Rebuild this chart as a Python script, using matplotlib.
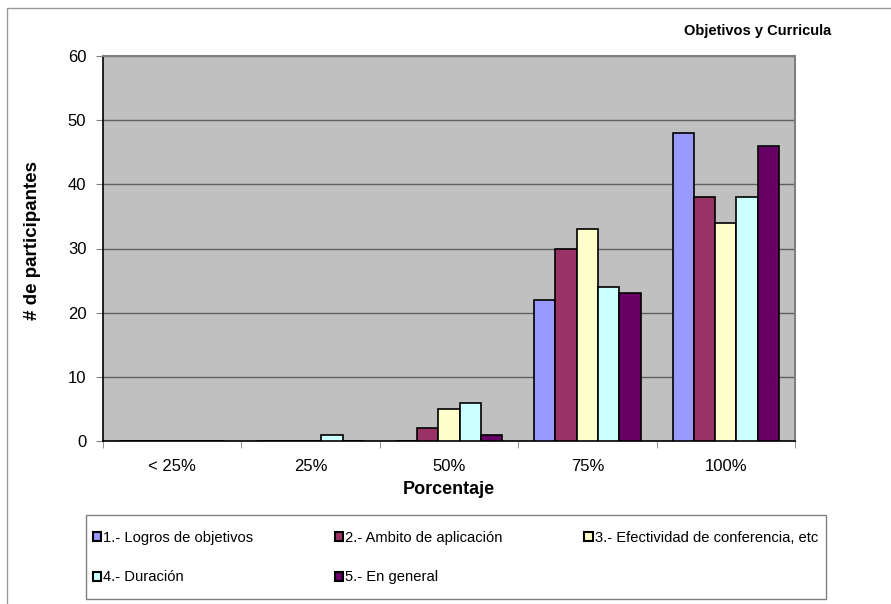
import numpy as np
import matplotlib
matplotlib.use('Agg')
import matplotlib.pyplot as plt
from matplotlib.patches import Rectangle

plt.rcParams['font.family'] = ['Liberation Sans', 'DejaVu Sans']

categories = ["< 25%", "25%", "50%", "75%", "100%"]
series_names = ["1.- Logros de objetivos", "2.- Ambito de aplicación",
                "3.- Efectividad de conferencia, etc", "4.- Duración",
                "5.- En general"]
logros = [0, 0, 0, 22, 48]
ambito = [0, 0, 2, 30, 38]
efectividad = [0, 0, 5, 33, 34]
duracion = [0, 1, 6, 24, 38]
general = [0, 0, 1, 23, 46]
colors = ["#9999FF", "#993366", "#FFFFCC", "#CCFFFF", "#660066"]

W, H = 891, 604
fig = plt.figure(figsize=(W / 100, H / 100), dpi=100)

# outer chart border (Excel style)
fig.add_artist(Rectangle((7 / W, -0.1), 1.0, 1 - 8 / H + 0.1, transform=fig.transFigure,
                         fill=False, edgecolor="#999999", linewidth=1))

ax = fig.add_axes([103 / W, 1 - 441 / H, (795 - 103) / W, (441 - 56) / H])
ax.set_facecolor("#C0C0C0")

x = np.arange(len(categories))
bw = 0.154
data = [logros, ambito, efectividad, duracion, general]
handles = []
for i, vals in enumerate(data):
    b = ax.bar(x + (i - 2) * bw, vals, width=bw, color=colors[i], edgecolor="black",
               linewidth=1.2, label=series_names[i], zorder=3)
    handles.append(b)

ax.set_xlim(-0.5, len(categories) - 0.5)
ax.set_ylim(0, 60)
ax.set_yticks(range(0, 61, 10))
ax.set_xticks(x)
ax.set_xticklabels(categories, fontsize=12)
ax.set_xticks(np.arange(-0.5, len(categories), 1), minor=True)
ax.tick_params(axis='x', which='major', length=0, pad=13)
ax.tick_params(axis='x', which='minor', length=5, color="#808080")
ax.tick_params(axis='y', labelsize=12, length=5, pad=7, color="#808080")
ax.yaxis.grid(True, color="#606060", linewidth=1, zorder=0)
ax.set_axisbelow(True)

for s in ["top", "right"]:
    ax.spines[s].set_color("#808080")
    ax.spines[s].set_linewidth(1.5)
for s in ["left", "bottom"]:
    ax.spines[s].set_color("black")
    ax.spines[s].set_linewidth(1.2)

ax.set_xlabel("Porcentaje", fontsize=13, fontweight="bold", labelpad=5)
fig.text(33 / W, 1 - 240 / H, "# de participantes", rotation=90, ha="center",
         va="center", fontsize=13.5, fontweight="bold")

fig.text(831 / W, 1 - 31 / H, "Objetivos y Curricula", ha="right", va="center",
         fontsize=10.5, fontweight="bold")

# legend frame drawn separately
fig.add_artist(Rectangle((86 / W, 1 - 599 / H), (826 - 86) / W, 84 / H,
                         transform=fig.transFigure, fill=False,
                         edgecolor="#808080", linewidth=1))

# reorder so the legend fills row by row (1,2,3 / 4,5)
order = [0, 3, 1, 4, 2]
leg = fig.legend(handles=[handles[k] for k in order],
                 labels=[series_names[k] for k in order],
                 loc="center left", ncol=3,
                 bbox_to_anchor=(93 / W, 1 - 557.5 / H, (818 - 93) / W, 0),
                 mode="expand", fontsize=10.6, frameon=False,
                 handlelength=0.55, handleheight=0.55, handletextpad=0.15,
                 labelspacing=1.75, borderpad=0, borderaxespad=0,
                 columnspacing=1.0)
for h in leg.legend_handles:
    h.set_linewidth(1.5)

fig.savefig("out.png", dpi=100)
